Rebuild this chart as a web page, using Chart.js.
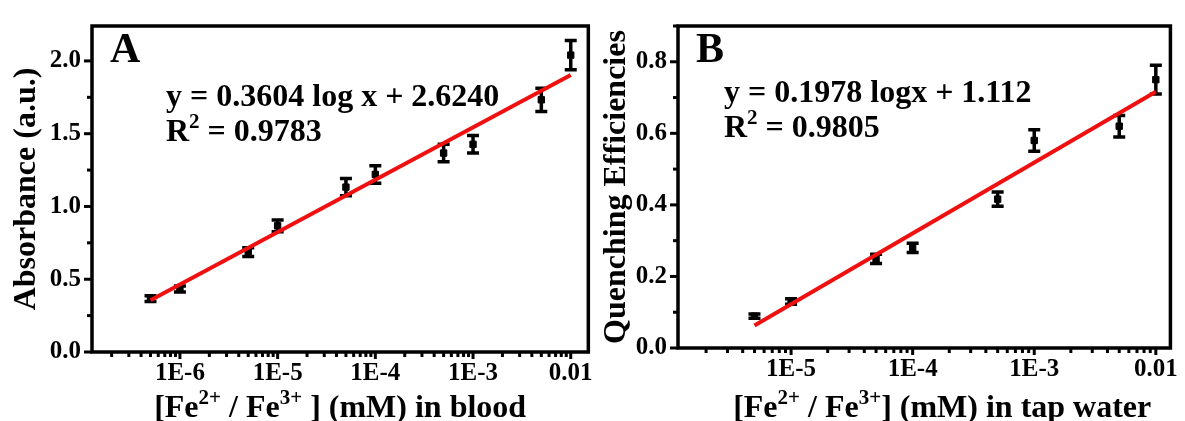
<!DOCTYPE html>
<html>
<head>
<meta charset="utf-8">
<script src="https://cdn.jsdelivr.net/npm/chart.js@4.4.1/dist/chart.umd.min.js"></script>
<style>
  body { margin: 0; background: #fff; }
  .wrap { position: relative; width: 1185px; height: 421px; overflow: hidden; }
  .panel { position: absolute; top: 0; height: 421px; }
</style>
</head>
<body>
<div class="wrap">
  <div class="panel" style="left:0;width:600px"><canvas id="chartA"></canvas></div>
  <div class="panel" style="left:595px;width:590px"><canvas id="chartB"></canvas></div>
</div>
<script>
// panel A - blood
const concA = [5e-7, 1e-6, 5e-6, 1e-5, 5e-5, 1e-4, 5e-4, 1e-3, 5e-3, 1e-2];
const absA = [0.367, 0.433, 0.687, 0.867, 1.133, 1.22, 1.367, 1.427, 1.733, 2.04];
const errA = [0.02, 0.02, 0.03, 0.04, 0.06, 0.06, 0.06, 0.06, 0.08, 0.10];
const fitXA = [5e-7, 1e-2];
const fitYA = [0.355, 1.903];
const yTicksA = [0, 0.5, 1.0, 1.5, 2.0];

// panel B - tap water
const concB = [5e-6, 1e-5, 5e-5, 1e-4, 5e-4, 1e-3, 5e-3, 1e-2];
const qeB = [0.089, 0.13, 0.249, 0.28, 0.416, 0.58, 0.62, 0.75];
const errB = [0.006, 0.008, 0.013, 0.013, 0.02, 0.03, 0.03, 0.04];
const fitXB = [5e-6, 1e-2];
const fitYB = [0.063, 0.716];
const yTicksB = [0, 0.2, 0.4, 0.6, 0.8];

const FONT = "'Liberation Serif', 'Times New Roman', serif";

function richText(ctx, parts, x, y, size, align) {
  // parts: [text, isSup]
  const supSize = Math.round(size * 0.66);
  let total = 0;
  parts.forEach(p => {
    ctx.font = 'bold ' + (p[1] ? supSize : size) + 'px ' + FONT;
    total += ctx.measureText(p[0]).width;
  });
  let cx = align === 'center' ? x - total / 2 : x;
  ctx.textAlign = 'left';
  ctx.textBaseline = 'alphabetic';
  parts.forEach(p => {
    ctx.font = 'bold ' + (p[1] ? supSize : size) + 'px ' + FONT;
    ctx.fillText(p[0], cx, p[1] ? y - size * 0.4 : y);
    cx += ctx.measureText(p[0]).width;
  });
}

const decor = {
  id: 'decor',
  beforeDatasetsDraw(chart) {
    const o = chart.options.plugins.decor;
    const ctx = chart.ctx, xs = chart.scales.x, ys = chart.scales.y;
    ctx.save();
    ctx.strokeStyle = '#000';
    ctx.lineWidth = 3.5;
    o.xs.forEach((xv, i) => {
      const px = xs.getPixelForValue(xv);
      const top = ys.getPixelForValue(o.ys[i] + o.err[i]);
      const bot = ys.getPixelForValue(o.ys[i] - o.err[i]);
      ctx.beginPath();
      ctx.moveTo(px, top); ctx.lineTo(px, bot);
      ctx.moveTo(px - 6, top); ctx.lineTo(px + 6, top);
      ctx.moveTo(px - 6, bot); ctx.lineTo(px + 6, bot);
      ctx.stroke();
    });
    ctx.restore();
  },
  afterDraw(chart) {
    const o = chart.options.plugins.decor;
    const ctx = chart.ctx, a = chart.chartArea;
    const xs = chart.scales.x, ys = chart.scales.y;
    ctx.save();
    ctx.strokeStyle = '#000';
    ctx.fillStyle = '#000';
    // frame
    ctx.lineWidth = 3.5;
    ctx.strokeRect(a.left, a.top, a.right - a.left, a.bottom - a.top);
    // y ticks, outward
    ctx.lineWidth = 3;
    const step = o.yStep / 2;
    for (let v = 0; v <= ys.max + 1e-9; v += step) {
      const py = ys.getPixelForValue(v);
      const major = Math.abs(v / o.yStep - Math.round(v / o.yStep)) < 1e-6;
      ctx.beginPath();
      ctx.moveTo(a.left, py); ctx.lineTo(a.left - (major ? 8 : 5), py);
      ctx.stroke();
    }
    // x ticks, log minor
    for (let d = -8; d <= -1; d++) {
      for (let m = 1; m <= 9; m++) {
        const v = m * Math.pow(10, d);
        if (v < xs.min || v > xs.max) continue;
        const px = xs.getPixelForValue(v);
        ctx.beginPath();
        ctx.moveTo(px, a.bottom); ctx.lineTo(px, a.bottom + (m === 1 ? 7 : 5));
        ctx.stroke();
      }
    }
    // panel letter
    ctx.font = 'bold 42px ' + FONT;
    ctx.textAlign = 'left';
    ctx.textBaseline = 'alphabetic';
    ctx.fillText(o.letter, a.left + o.letterDx, 62);
    // equation
    richText(ctx, [[o.eq, 0]], a.left + o.eqDx, o.eqY, 32, 'left');
    richText(ctx, [['R', 0], ['2', 1], [' = ' + o.r2, 0]], a.left + o.eqDx, o.eqY + 35, 32, 'left');
    // x title
    richText(ctx, o.xTitle, (a.left + a.right) / 2 + o.xTitleDx, 417, 32, 'center');
    // y title
    ctx.translate(o.yTitleX, (a.top + a.bottom) / 2);
    ctx.rotate(-Math.PI / 2);
    ctx.font = 'bold 32px ' + FONT;
    ctx.textAlign = 'center';
    ctx.textBaseline = 'middle';
    ctx.fillText(o.yTitle, 0, 0);
    ctx.restore();
  }
};

function makeChart(id, d) {
  return new Chart(document.getElementById(id), {
    type: 'scatter',
    data: {
      datasets: [
        {
          type: 'line',
          data: d.fitX.map((x, i) => ({ x: x, y: d.fitY[i] })),
          borderColor: '#f01010',
          borderWidth: 4,
          pointRadius: 0,
          fill: false
        },
        {
          data: d.xs.map((x, i) => ({ x: x, y: d.ys[i] })),
          pointStyle: 'rect',
          pointRadius: 4.5,
          backgroundColor: '#000',
          borderColor: '#000'
        }
      ]
    },
    options: {
      responsive: true,
      maintainAspectRatio: false,
      animation: false,
      layout: { padding: { left: 0, right: d.padRight, top: d.padTop, bottom: 0 } },
      plugins: {
        legend: { display: false },
        tooltip: { enabled: false },
        decor: d
      },
      scales: {
        x: {
          type: 'logarithmic',
          min: d.xMin,
          max: d.xMax,
          grid: { display: false, drawTicks: false },
          border: { display: false },
          afterBuildTicks: s => {
            const t = [];
            for (let e = -8; e <= -1; e++) {
              const v = Math.pow(10, e);
              if (v >= s.min && v <= s.max) t.push({ value: v });
            }
            s.ticks = t;
          },
          afterFit: s => { s.height = d.xAxisH; },
          ticks: {
            autoSkip: false,
            maxRotation: 0,
            padding: 7,
            color: '#000',
            font: { family: FONT, weight: 'bold', size: 25 },
            callback: v => v >= 0.01 ? '0.01' : '1E' + Math.round(Math.log10(v))
          }
        },
        y: {
          min: 0,
          max: d.yMax,
          grid: { display: false, drawTicks: false },
          border: { display: false },
          afterBuildTicks: s => { s.ticks = d.yTicks.map(v => ({ value: v })); },
          afterFit: s => { s.width = d.yAxisW; },
          ticks: {
            padding: 11,
            color: '#000',
            font: { family: FONT, weight: 'bold', size: 25 },
            callback: v => v.toFixed(1)
          }
        }
      }
    },
    plugins: [decor]
  });
}

makeChart('chartA', {
  xs: concA, ys: absA, err: errA, fitX: fitXA, fitY: fitYA, yTicks: yTicksA,
  xMin: Math.pow(10, -6.9), xMax: Math.pow(10, -1.82), yMax: 2.24, yStep: 0.5,
  padRight: 11, padTop: 16, yAxisW: 92, xAxisH: 69,
  letter: 'A', letterDx: 18, eq: 'y = 0.3604 log x + 2.6240', r2: '0.9783', eqDx: 74, eqY: 106,
  yTitle: 'Absorbance (a.u.)', yTitleX: 27, xTitleDx: 0,
  xTitle: [['[Fe', 0], ['2+', 1], [' / Fe', 0], ['3+', 1], [' ] (mM) in blood', 0]]
});

makeChart('chartB', {
  xs: concB, ys: qeB, err: errB, fitX: fitXB, fitY: fitYB, yTicks: yTicksB,
  xMin: Math.pow(10, -5.93), xMax: Math.pow(10, -1.88), yMax: 0.9, yStep: 0.2,
  padRight: 10, padTop: 15, yAxisW: 83, xAxisH: 73,
  letter: 'B', letterDx: 18, eq: 'y = 0.1978 logx + 1.112', r2: '0.9805', eqDx: 46, eqY: 102,
  yTitle: 'Quenching Efficiencies', yTitleX: 22, xTitleDx: 18,
  xTitle: [['[Fe', 0], ['2+', 1], [' / Fe', 0], ['3+', 1], ['] (mM) in tap water', 0]]
});
</script>
</body>
</html>
